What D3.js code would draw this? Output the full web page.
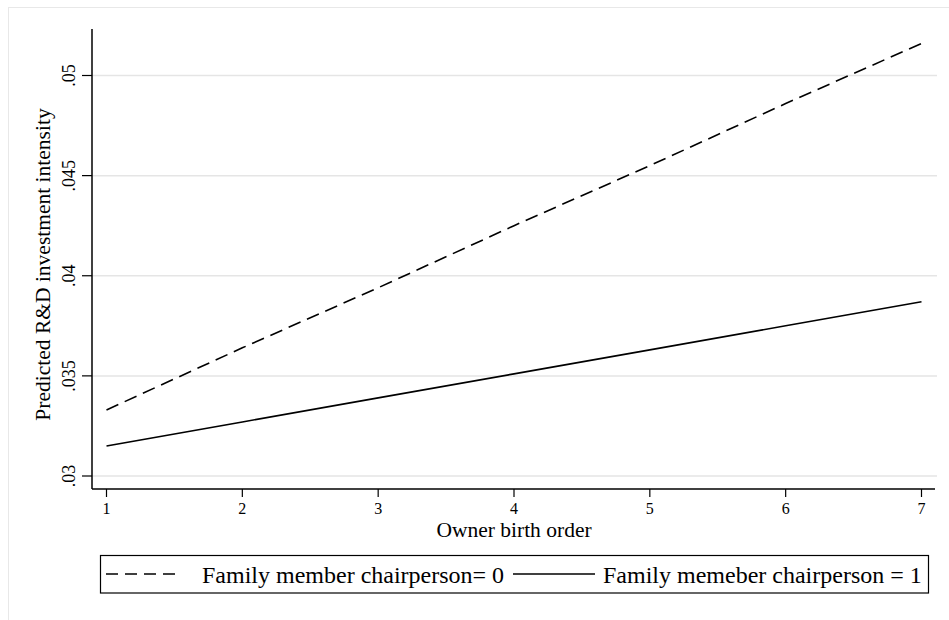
<!DOCTYPE html>
<html>
<head>
<meta charset="utf-8">
<script src="https://cdn.jsdelivr.net/npm/d3@7"></script>
<style>
  body { margin: 0; background: #fff; }
  svg text { font-family: "Liberation Serif", "DejaVu Serif", serif; fill: #000; }
</style>
</head>
<body>
<div id="target"></div>
<script>
// data
const birthOrder = [1, 2, 3, 4, 5, 6, 7]
const chair0 = [0.0333, 0.0364, 0.0394, 0.0425, 0.0455, 0.0486, 0.0516]
const chair1 = [0.0315, 0.0327, 0.0339, 0.0351, 0.0363, 0.0375, 0.0387]
const yTicks = [0.03, 0.035, 0.04, 0.045, 0.05]
const yTickLabels = ['.03', '.035', '.04', '.045', '.05']
const seriesNames = ['Family member chairperson= 0', 'Family memeber chairperson = 1']

const width = 949, height = 620

const svg = d3.select('#target').append('svg')
    .attr('width', width)
    .attr('height', height)

// outer frame
svg.append('rect')
    .attr('x', 8.5).attr('y', 7.5)
    .attr('width', width).attr('height', height)
    .attr('fill', 'none')
    .attr('stroke', '#e8e8e8')

const plot = { left: 92, right: 936, top: 29, bottom: 489 }

const x = d3.scaleLinear().domain([1, 7]).range([106.5, 921.5])
const y = d3.scaleLinear().domain([0.03, 0.05]).range([476, 75.5])

//Gridlines
svg.append('g')
    .selectAll('line')
    .data(yTicks)
    .join('line')
    .attr('x1', plot.left).attr('x2', plot.right + 1)
    .attr('y1', d => y(d)).attr('y2', d => y(d))
    .attr('stroke', '#e5e5e5')
    .attr('stroke-width', 1.5)

//Axes
const yAxis = svg.append('g')
    .attr('transform', `translate(${plot.left},0)`)
yAxis.append('line')
    .attr('y1', plot.top).attr('y2', plot.bottom)
    .attr('stroke', '#000').attr('stroke-width', 1.5)
yAxis.selectAll('.tick')
    .data(yTicks)
    .join('line')
    .attr('x1', -10).attr('x2', 0)
    .attr('y1', d => y(d)).attr('y2', d => y(d))
    .attr('stroke', '#000').attr('stroke-width', 1.2)
yAxis.selectAll('.ticklabel')
    .data(yTicks)
    .join('text')
    .attr('transform', d => `translate(-17,${y(d)}) rotate(-90)`)
    .attr('text-anchor', 'middle')
    .attr('font-size', 18)
    .text((d, i) => yTickLabels[i])

const xAxis = svg.append('g')
    .attr('transform', `translate(0,${plot.bottom})`)
xAxis.append('line')
    .attr('x1', plot.left).attr('x2', plot.right - 1)
    .attr('stroke', '#000').attr('stroke-width', 1.5)
xAxis.selectAll('.tick')
    .data(birthOrder)
    .join('line')
    .attr('x1', d => x(d)).attr('x2', d => x(d))
    .attr('y1', 0).attr('y2', 8)
    .attr('stroke', '#000').attr('stroke-width', 1.2)
xAxis.selectAll('.ticklabel')
    .data(birthOrder)
    .join('text')
    .attr('x', d => x(d))
    .attr('y', 25)
    .attr('text-anchor', 'middle')
    .attr('font-size', 16)
    .text(d => d)

//Titles
svg.append('text')
    .attr('x', 514)
    .attr('y', 537)
    .attr('text-anchor', 'middle')
    .attr('font-size', 21.5)
    .text('Owner birth order')

svg.append('text')
    .attr('transform', `translate(50,264.5) rotate(-90)`)
    .attr('text-anchor', 'middle')
    .attr('font-size', 21.5)
    .text('Predicted R&D investment intensity')

//Lines
const line = d3.line()
    .x((d, i) => x(birthOrder[i]))
    .y(d => y(d))

svg.append('path')
    .attr('d', line(chair0))
    .attr('fill', 'none')
    .attr('stroke', '#000')
    .attr('stroke-width', 1.6)
    .attr('stroke-dasharray', '13,7')

svg.append('path')
    .attr('d', line(chair1))
    .attr('fill', 'none')
    .attr('stroke', '#000')
    .attr('stroke-width', 1.6)

//Legend
const legend = svg.append('g')
legend.append('rect')
    .attr('x', 100.5).attr('y', 555.5)
    .attr('width', 828).attr('height', 37.5)
    .attr('fill', 'none')
    .attr('stroke', '#000')
    .attr('stroke-width', 1.2)

const legendItems = [
    { name: seriesNames[0], x1: 106, x2: 182, tx: 202, dash: '12,7' },
    { name: seriesNames[1], x1: 513, x2: 595, tx: 603, dash: null }
]
legendItems.forEach(item => {
    legend.append('line')
        .attr('x1', item.x1).attr('x2', item.x2)
        .attr('y1', 574).attr('y2', 574)
        .attr('stroke', '#000')
        .attr('stroke-width', 1.6)
        .attr('stroke-dasharray', item.dash)
    legend.append('text')
        .attr('x', item.tx)
        .attr('y', 583)
        .attr('font-size', 24)
        .text(item.name)
})
</script>
</body>
</html>
